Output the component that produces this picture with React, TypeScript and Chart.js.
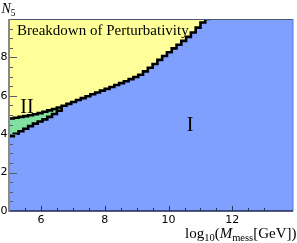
import React, { useEffect, useRef } from 'react';
import { Chart, registerables } from 'chart.js';

Chart.register(...registerables);

// log10(M_mess / GeV) grid of the staircase boundaries
const boundaryX = [
  5.0, 5.15, 5.3, 5.45, 5.6, 5.75, 5.9, 6.05, 6.2, 6.35, 6.5, 6.65, 6.8, 6.95, 7.1,
  7.25, 7.4, 7.55, 7.7, 7.85, 8.0, 8.15, 8.3, 8.45, 8.6, 8.75, 8.9, 9.05, 9.2, 9.35,
  9.5, 9.65, 9.8, 9.95, 10.1, 10.25, 10.4, 10.55, 10.7, 10.85, 11.0, 11.15, 11.3,
];
// upper edge: breakdown of perturbativity
const perturbativityLimitN5 = [
  4.82, 4.86, 4.9, 4.94, 4.99, 5.04, 5.1, 5.17, 5.24, 5.31, 5.39, 5.48, 5.58, 5.68, 5.78,
  5.88, 5.98, 6.08, 6.17, 6.27, 6.36, 6.46, 6.56, 6.66, 6.76, 6.87, 6.98, 7.1, 7.27, 7.46,
  7.66, 7.87, 8.07, 8.27, 8.47, 8.66, 8.86, 9.07, 9.3, 9.55, 9.82, 10.0, 10.0,
];
// lower edge of region II
const regionIIX = [5.0, 5.15, 5.3, 5.45, 5.6, 5.75, 5.9, 6.05, 6.2, 6.35, 6.5, 6.65];
const regionIILowerN5 = [3.9, 4.02, 4.15, 4.28, 4.42, 4.55, 4.66, 4.77, 4.9, 5.05, 5.22, 5.48];

const xTickLabels = ['6', '8', '10', '12'];
const yTickLabels = ['0', '2', '4', '6', '8'];
const regionLabels = ['I', 'II'];
const breakdownText = 'Breakdown of Perturbativity';

const BLUE = '#80A0FF';
const YELLOW = '#FFFF99';
const GREEN = '#80E0A0';
const SERIF = '"Liberation Serif", "Times New Roman", serif';
const SANS = '"DejaVu Sans", sans-serif';

export default function App() {
  const ref = useRef<HTMLCanvasElement>(null);

  useEffect(() => {
    document.body.style.margin = '0';
    const canvas = ref.current!;
    const decor = {
      id: 'decor',
      beforeDatasetsDraw(chart: any) {
        const { ctx, chartArea } = chart;
        ctx.save();
        ctx.fillStyle = BLUE;
        ctx.fillRect(chartArea.left, chartArea.top, chartArea.right - chartArea.left, chartArea.bottom - chartArea.top);
        ctx.restore();
      },
      afterDatasetsDraw(chart: any) {
        const { ctx, chartArea, scales } = chart;
        const { left, right, top, bottom } = chartArea;
        const xs = scales.x;
        const ys = scales.y;
        ctx.save();
        // region texts
        ctx.fillStyle = '#000';
        ctx.font = `15px ${SERIF}`;
        ctx.textAlign = 'left';
        ctx.textBaseline = 'alphabetic';
        ctx.fillText(breakdownText, 17, 35);
        ctx.font = `20px ${SERIF}`;
        ctx.textAlign = 'center';
        ctx.fillText(regionLabels[1], 27, 113);
        ctx.fillText(regionLabels[0], 190, 131);

        // frame
        ctx.lineWidth = 1;
        ctx.strokeStyle = '#4a5570';
        ctx.beginPath();
        ctx.moveTo(left, top + 0.5);
        ctx.lineTo(right, top + 0.5);
        ctx.stroke();
        ctx.strokeStyle = '#5a78d8';
        ctx.beginPath();
        ctx.moveTo(right, top);
        ctx.lineTo(right, bottom);
        ctx.stroke();

        // ticks (inward)
        ctx.strokeStyle = '#2a3350';
        ctx.lineWidth = 1;
        xs.ticks.forEach((t: any) => {
          const v = t.value;
          if (Math.abs(v * 2 - Math.round(v * 2)) > 1e-6) return;
          const px = Math.round(xs.getPixelForValue(v)) + 0.5;
          const major = Math.abs(v / 2 - Math.round(v / 2)) < 1e-6;
          ctx.beginPath();
          ctx.moveTo(px, bottom);
          ctx.lineTo(px, bottom - (major ? 5 : 3));
          ctx.stroke();
        });
        ctx.strokeStyle = '#555a66';
        ys.ticks.forEach((t: any) => {
          const v = t.value;
          if (v <= 0 || v >= 10) return;
          const py = Math.round(ys.getPixelForValue(v)) + 0.5;
          const major = Math.abs(v / 2 - Math.round(v / 2)) < 1e-6;
          ctx.beginPath();
          ctx.moveTo(left, py);
          ctx.lineTo(left + (major ? 8 : 4), py);
          ctx.stroke();
        });

        // axes
        ctx.strokeStyle = '#1e2a55';
        ctx.lineWidth = 1.4;
        ctx.beginPath();
        ctx.moveTo(left, bottom);
        ctx.lineTo(right, bottom);
        ctx.stroke();
        ctx.strokeStyle = '#8a8a8a';
        ctx.lineWidth = 2;
        ctx.beginPath();
        ctx.moveTo(left, top);
        ctx.lineTo(left, bottom + 1);
        ctx.stroke();
        ctx.restore();
      },
      afterDraw(chart: any) {
        const { ctx, scales } = chart;
        const ys = scales.y;
        ctx.save();
        ctx.fillStyle = '#000';
        // y tick labels
        ctx.font = `11px ${SANS}`;
        ctx.textAlign = 'right';
        ctx.textBaseline = 'middle';
        yTickLabels.forEach((lab) => {
          ctx.fillText(lab, 7.5, ys.getPixelForValue(Number(lab)));
        });

        ctx.textAlign = 'left';
        ctx.textBaseline = 'alphabetic';
        // y title N_5
        ctx.font = `italic 14px ${SERIF}`;
        ctx.fillText('N', 1.5, 13);
        const nw = ctx.measureText('N').width;
        ctx.font = `9.5px ${SERIF}`;
        ctx.fillText('5', 1.5 + nw, 16);

        // x title log10(M_mess[GeV])
        const main = `15px ${SERIF}`;
        const ital = `italic 15px ${SERIF}`;
        const sub = `10.5px ${SERIF}`;
        const pieces: [string, string, number][] = [
          ['log', main, 0],
          ['10', sub, 3],
          ['(', main, 0],
          ['M', ital, 0],
          ['mess', sub, 3],
          ['[GeV])', main, 0],
        ];
        let total = 0;
        const widths = pieces.map(([s, f]) => {
          ctx.font = f;
          const w = ctx.measureText(s).width;
          total += w;
          return w;
        });
        let x = 296.5 - total;
        const base = 238;
        pieces.forEach(([s, f, dy], i) => {
          ctx.font = f;
          ctx.fillText(s, x, base + dy);
          x += widths[i];
        });
        ctx.restore();
      },
    };

    const lineStyle = {
      stepped: 'before' as const,
      borderColor: '#000',
      borderWidth: 2.6,
      pointRadius: 0,
      fill: 'end' as const,
    };

    const chart = new Chart(canvas, {
      type: 'line',
      data: {
        datasets: [
          {
            ...lineStyle,
            label: 'perturbativity limit',
            data: boundaryX.map((x, i) => ({ x, y: perturbativityLimitN5[i] })),
            backgroundColor: YELLOW,
          },
          {
            ...lineStyle,
            label: 'region II lower edge',
            data: regionIIX.map((x, i) => ({ x, y: regionIILowerN5[i] })),
            backgroundColor: GREEN,
          },
        ],
      },
      options: {
        responsive: false,
        animation: false,
        layout: { padding: { top: 19, right: 4, left: 0, bottom: 0 } },
        plugins: { legend: { display: false }, tooltip: { enabled: false } },
        scales: {
          x: {
            type: 'linear',
            min: 5,
            max: 13.9,
            afterFit(s: any) {
              s.height = 32;
            },
            grid: { display: false, drawTicks: false },
            border: { display: false },
            ticks: {
              stepSize: 0.5,
              autoSkip: false,
              maxRotation: 0,
              padding: 3,
              color: '#000',
              font: { family: SANS, size: 11 },
              callback: (v: any) => (xTickLabels.includes(String(v)) ? String(v) : ''),
            },
          },
          y: {
            type: 'linear',
            min: 0,
            max: 10,
            afterFit(s: any) {
              s.width = 9;
            },
            grid: { display: false, drawTicks: false },
            border: { display: false },
            ticks: {
              stepSize: 0.5,
              autoSkip: false,
              display: false,
            },
          },
        },
      },
      plugins: [decor],
    });
    return () => chart.destroy();
  }, []);

  return (
    <div style={{ width: 297, height: 243 }}>
      <canvas ref={ref} width={297} height={243} style={{ display: 'block' }} />
    </div>
  );
}
